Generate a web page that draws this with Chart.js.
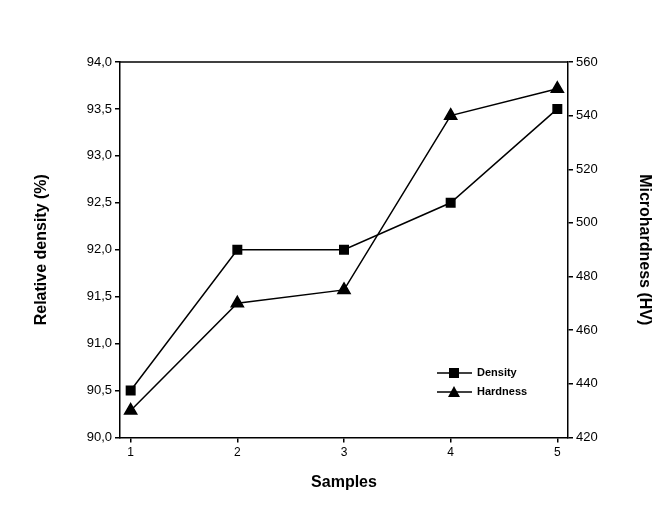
<!DOCTYPE html>
<html>
<head>
<meta charset="utf-8">
<script src="https://cdn.jsdelivr.net/npm/chart.js@4"></script>
<style>
  body { margin: 0; background: #fff; }
  #wrap { width: 670px; height: 518px; }
</style>
</head>
<body>
<div id="wrap"><canvas id="grafico"></canvas></div>
<script>
// datos
const muestras = [1, 2, 3, 4, 5];
const densidad = [90.5, 92.0, 92.0, 92.5, 93.5];
const dureza = [430, 470, 475, 540, 550];
const ticksDensidad = [90, 90.5, 91, 91.5, 92, 92.5, 93, 93.5, 94];
const ticksDureza = [420, 440, 460, 480, 500, 520, 540, 560];

const fuente = 'Liberation Sans, Arial, sans-serif';

// leyenda dentro del area del grafico
const leyenda = {
    id: 'leyenda',
    afterDraw(chart) {
        const c = chart.ctx;
        const items = [['Density', 'rect'], ['Hardness', 'triangle']];
        c.save();
        c.font = 'bold 11px ' + fuente;
        c.fillStyle = '#000';
        c.strokeStyle = '#000';
        c.lineWidth = 1.5;
        items.forEach((it, i) => {
            const y = 373 + i * 19;
            c.beginPath(); c.moveTo(437, y); c.lineTo(472, y); c.stroke();
            c.beginPath();
            if (it[1] === 'rect') c.rect(449, y - 5, 10, 10);
            else { c.moveTo(454, y - 6); c.lineTo(460, y + 5); c.lineTo(448, y + 5); c.closePath(); }
            c.fill();
            c.textBaseline = 'middle';
            c.fillText(it[0], 477, y);
        });
        c.restore();
    }
};

const rejilla = { display: true, drawOnChartArea: false, tickLength: 5, tickColor: '#000', lineWidth: 1.5 };

new Chart(document.getElementById('grafico'), {
    type: 'line',
    data: {
        datasets: [{
            label: 'Density',
            data: muestras.map((m, i) => ({ x: m, y: densidad[i] })),
            yAxisID: 'y',
            borderColor: '#000',
            backgroundColor: '#000',
            borderWidth: 1.5,
            pointStyle: 'rect',
            pointRadius: 6,
            tension: 0
        }, {
            label: 'Hardness',
            data: muestras.map((m, i) => ({ x: m, y: dureza[i] })),
            yAxisID: 'y1',
            borderColor: '#000',
            backgroundColor: '#000',
            borderWidth: 1.5,
            pointStyle: 'triangle',
            pointRadius: 7,
            tension: 0
        }]
    },
    options: {
        responsive: true,
        maintainAspectRatio: false,
        animation: false,
        layout: { padding: { top: 62, bottom: 22, left: 28, right: 12 } },
        plugins: { legend: { display: false }, tooltip: { enabled: false } },
        scales: {
            x: {
                type: 'linear', min: 0.9, max: 5.1,
                afterBuildTicks: ax => { ax.ticks = muestras.map(v => ({ value: v })); },
                grid: rejilla,
                border: { color: '#000', width: 1.5 },
                ticks: { color: '#000', font: { family: fuente, size: 12 } },
                title: { display: true, text: 'Samples', color: '#000', padding: { top: 10 }, font: { family: fuente, size: 16, weight: 'bold' } }
            },
            y: {
                position: 'left', min: 90, max: 94,
                afterBuildTicks: ax => { ax.ticks = ticksDensidad.map(v => ({ value: v })); },
                afterFit: ax => { ax.width = 92; },
                grid: rejilla,
                border: { color: '#000', width: 1.5 },
                ticks: { color: '#000', font: { family: fuente, size: 13 },
                    callback: v => v.toFixed(1).replace('.', ',') },
                title: { display: true, text: 'Relative density (%)', color: '#000', font: { family: fuente, size: 16, weight: 'bold' } }
            },
            y1: {
                position: 'right', min: 420, max: 560,
                afterBuildTicks: ax => { ax.ticks = ticksDureza.map(v => ({ value: v })); },
                afterFit: ax => { ax.width = 90; },
                grid: rejilla,
                border: { color: '#000', width: 1.5 },
                ticks: { color: '#000', font: { family: fuente, size: 13 } },
                title: { display: true, text: 'Microhardness (HV)', color: '#000', font: { family: fuente, size: 16, weight: 'bold' } }
            }
        }
    },
    plugins: [leyenda, {
        id: 'bordeSuperior',
        afterDraw(chart) {
            const a = chart.chartArea, c = chart.ctx;
            c.save(); c.strokeStyle = '#000'; c.lineWidth = 1.5;
            c.beginPath(); c.moveTo(a.left, a.top); c.lineTo(a.right, a.top); c.stroke();
            c.restore();
        }
    }]
});
</script>
</body>
</html>
